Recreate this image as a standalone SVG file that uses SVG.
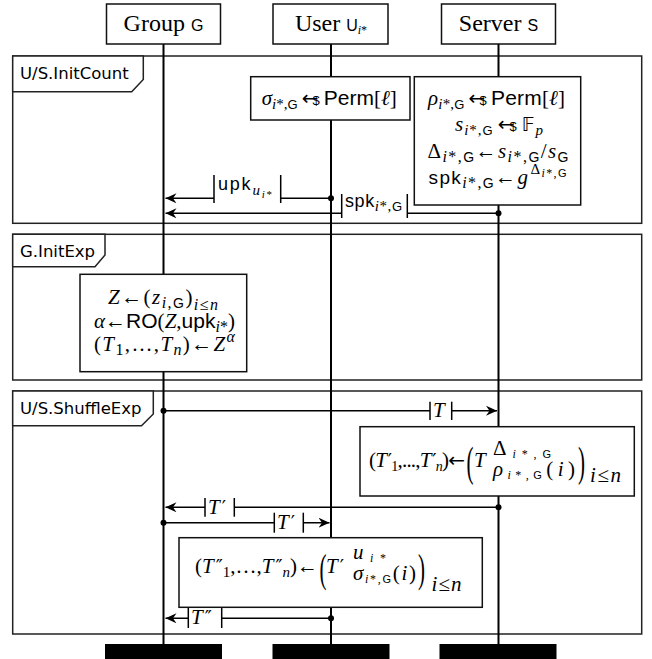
<svg xmlns="http://www.w3.org/2000/svg" width="652" height="659" viewBox="0 0 652 659">
<style>
.frame{fill:none;stroke:#222;stroke-width:1.5}
.tab{fill:#fff;stroke:#222;stroke-width:1.5}
.box{fill:#fff;stroke:#111;stroke-width:1.5}
.life{stroke:#000;stroke-width:2}
.msg{stroke:#000;stroke-width:1.5;fill:none}
.bar{stroke:#000;stroke-width:1.5}
.lblbg{fill:#fff}
.dot{fill:#000}
.end{fill:#000}
.hd{font-family:"Liberation Serif",serif;font-size:24px}
.lab{font-family:"DejaVu Sans",sans-serif;font-size:16.5px}
.t{font-family:"Liberation Serif",serif;font-size:21px}
.i{font-style:italic}
.sf{font-family:"Liberation Sans",sans-serif;font-style:normal}
.pr{font-family:"DejaVu Sans",sans-serif;font-style:normal;font-size:19px}
.ar{font-family:"DejaVu Sans",sans-serif;font-style:normal;font-size:20px}
.s{font-size:15px}
</style>
<defs>
<marker id="ah" markerWidth="14" markerHeight="12" refX="11" refY="5" orient="auto" markerUnits="userSpaceOnUse">
<path d="M0,0 L11,5 L0,10 L3.5,5 Z" fill="#000"/>
</marker>
</defs>

<g id="frames">
<rect class="frame" x="12.7" y="56" width="629" height="167.3"/>
<path class="tab" d="M12.7,56 H143.3 V79.5 L131.7,91.7 H12.7 Z"/>
<text class="lab" x="20" y="78.5">U/S.InitCount</text>
<rect class="frame" x="12.7" y="234.3" width="629" height="145.7"/>
<path class="tab" d="M12.7,234.3 H105 V255 L95,266.7 H12.7 Z"/>
<text class="lab" x="20" y="257">G.InitExp</text>
<rect class="frame" x="12.7" y="391" width="629" height="243"/>
<path class="tab" d="M12.7,391 H153.3 V414 L141.5,425.7 H12.7 Z"/>
<text class="lab" x="20" y="414">U/S.ShuffleExp</text>
</g>

<g id="lifelines">
<line class="life" x1="163.5" y1="44" x2="163.5" y2="645"/>
<line class="life" x1="331" y1="44" x2="331" y2="645"/>
<line class="life" x1="498.5" y1="44" x2="498.5" y2="645"/>
</g>

<g id="group-G">
<rect class="box" x="106.5" y="4" width="114" height="40"/>
<text class="hd" x="163.5" y="31" text-anchor="middle">Group <tspan class="sf" font-size="16">G</tspan></text>
<rect class="end" x="105" y="644" width="117" height="15"/>
</g>
<g id="user-U">
<rect class="box" x="273" y="4" width="115" height="40"/>
<text class="hd" x="331" y="31" text-anchor="middle">User <tspan class="sf" font-size="16">U</tspan><tspan class="i" font-size="12" dy="3">i</tspan><tspan font-size="12">*</tspan></text>
<rect class="end" x="272.5" y="644" width="117" height="15"/>
</g>
<g id="server-S">
<rect class="box" x="441.5" y="4" width="114" height="40"/>
<text class="hd" x="498.5" y="31" text-anchor="middle">Server <tspan class="sf" font-size="16">S</tspan></text>
<rect class="end" x="439.5" y="644" width="117" height="15"/>
</g>

<g id="user-initcount">
<rect class="box" x="250.7" y="76.7" width="159.3" height="43.3"/>
<text class="t" x="261.7" y="105" textLength="135"><tspan class="i">σ</tspan><tspan dy="4" class="s"><tspan class="i">i</tspan>*,<tspan class="sf" font-size="13">G</tspan></tspan><tspan dy="-4" dx="4" class="ar">←</tspan><tspan dx="-6" font-size="13" class="sf">$</tspan><tspan dx="4" class="sf">Perm</tspan>[<tspan class="i">ℓ</tspan>]</text>
</g>

<g id="server-initcount">
<rect class="box" x="414.3" y="76.7" width="166.4" height="128.3"/>
<text class="t" x="428" y="105" textLength="137"><tspan class="i">ρ</tspan><tspan dy="4" class="s"><tspan class="i">i</tspan>*,<tspan class="sf" font-size="13">G</tspan></tspan><tspan dy="-4" dx="4" class="ar">←</tspan><tspan dx="-6" font-size="13" class="sf">$</tspan><tspan dx="4" class="sf">Perm</tspan>[<tspan class="i">ℓ</tspan>]</text>
<text class="t" x="455" y="131" textLength="88"><tspan class="i">s</tspan><tspan dy="4" class="s"><tspan class="i">i</tspan>*,<tspan class="sf" font-size="13">G</tspan></tspan><tspan dy="-4" dx="4" class="ar">←</tspan><tspan dx="-6" font-size="13" class="sf">$</tspan><tspan dx="4" font-family="DejaVu Sans" font-size="19">𝔽</tspan><tspan class="i s" dy="4">p</tspan></text>
<text class="t" x="427.5" y="158" textLength="141"><tspan>Δ</tspan><tspan dy="4" font-size="16"><tspan class="i">i</tspan>*,<tspan class="sf" font-size="14">G</tspan></tspan><tspan dy="-4">←</tspan><tspan class="i">s</tspan><tspan dy="4" font-size="16"><tspan class="i">i</tspan>*,<tspan class="sf" font-size="14">G</tspan></tspan><tspan dy="-4">/</tspan><tspan class="i">s</tspan><tspan class="sf" font-size="14" dy="4">G</tspan></text>
<text class="t" x="428.5" y="184" textLength="138"><tspan class="sf" font-size="19">spk</tspan><tspan dy="4" font-size="16"><tspan class="i">i</tspan>*,<tspan class="sf" font-size="14">G</tspan></tspan><tspan dy="-4">←</tspan><tspan class="i">g</tspan><tspan dx="1" dy="-10" font-size="15">Δ</tspan><tspan dy="3" font-size="12"><tspan class="i">i</tspan>*,<tspan class="sf" font-size="11">G</tspan></tspan></text>
</g>

<g id="group-initexp">
<rect class="box" x="80" y="274.3" width="166.7" height="97.4"/>
<text class="t" x="108" y="304" textLength="110"><tspan class="i">Z</tspan>←(<tspan class="i">z</tspan><tspan dy="4" font-size="16"><tspan class="i">i</tspan>,<tspan class="sf" font-size="14">G</tspan></tspan><tspan dy="-4">)</tspan><tspan dy="6" font-size="16"><tspan class="i">i</tspan>≤<tspan class="i">n</tspan></tspan></text>
<text class="t" x="94" y="328" textLength="141"><tspan class="i">α</tspan>←<tspan class="sf">RO</tspan>(<tspan class="i">Z</tspan>,<tspan class="sf">upk</tspan><tspan dy="4" font-size="16"><tspan class="i">i</tspan>*</tspan><tspan dy="-4">)</tspan></text>
<text class="t" x="94" y="351" textLength="141">(<tspan class="i">T</tspan><tspan dy="4" font-size="16">1</tspan><tspan dy="-4">,…,</tspan><tspan class="i">T</tspan><tspan class="i" dy="4" font-size="16">n</tspan><tspan dy="-4">)←</tspan><tspan class="i">Z</tspan><tspan class="i" dy="-9" font-size="16">α</tspan></text>
</g>

<g id="server-shuffle">
<rect class="box" x="360" y="426.7" width="274.3" height="69.3"/>
<text class="t" x="369" y="467" font-size="19" textLength="96">(<tspan class="i">T</tspan><tspan class="pr" font-size="17" dx="1.5">′</tspan><tspan dy="4" font-size="14">1</tspan><tspan dy="-4">,...,</tspan><tspan class="i">T</tspan><tspan class="pr" font-size="17" dx="1.5">′</tspan><tspan class="i" dy="4" font-size="14">n</tspan><tspan dy="-4">)</tspan><tspan class="ar" font-size="18">←</tspan></text>
<text class="t" font-size="26" transform="translate(466.5,476) scale(1,2)">(</text>
<text class="t i" x="474" y="467" font-size="22">T</text>
<text class="t" x="493" y="455" font-size="16" textLength="58">Δ<tspan dy="3" font-size="12"><tspan class="i">i</tspan>*,<tspan class="sf" font-size="11">G</tspan></tspan></text>
<text class="t" x="493" y="476" font-size="16" textLength="82"><tspan class="i">ρ</tspan><tspan dy="3" font-size="12"><tspan class="i">i</tspan>*,<tspan class="sf" font-size="11">G</tspan></tspan><tspan dy="-3">(</tspan><tspan class="i">i</tspan>)</text>
<text class="t" font-size="26" transform="translate(578,476) scale(1,2)">)</text>
<text class="t" x="590" y="482" font-size="16" textLength="31"><tspan class="i">i</tspan>≤<tspan class="i">n</tspan></text>
</g>

<g id="user-shuffle">
<rect class="box" x="179" y="537.7" width="303.3" height="69.6"/>
<text class="t" x="195" y="573" textLength="123">(<tspan class="i">T</tspan><tspan class="pr" dx="2">″</tspan><tspan dy="4" font-size="15">1</tspan><tspan dy="-4">,…,</tspan><tspan class="i">T</tspan><tspan class="pr" dx="2">″</tspan><tspan class="i" dy="4" font-size="15">n</tspan><tspan dy="-4">)←</tspan></text>
<text class="t" font-size="26" transform="translate(319.5,582) scale(1,1.9)">(</text>
<text class="t" x="326" y="573" font-size="22"><tspan class="i">T</tspan><tspan class="pr" dx="2">′</tspan></text>
<text class="t" x="353" y="559" font-size="16" textLength="33"><tspan class="i">u</tspan><tspan dy="3" font-size="12"><tspan class="i">i</tspan>*</tspan></text>
<text class="t" x="353" y="580" font-size="16" textLength="63"><tspan class="i">σ</tspan><tspan dy="3" font-size="12"><tspan class="i">i</tspan>*,<tspan class="sf" font-size="11">G</tspan></tspan><tspan dy="-3">(</tspan><tspan class="i">i</tspan>)</text>
<text class="t" font-size="26" transform="translate(418,582) scale(1,1.9)">)</text>
<text class="t" x="431.5" y="591" font-size="16" textLength="30"><tspan class="i">i</tspan>≤<tspan class="i">n</tspan></text>
</g>

<g id="connectors">
<line class="msg" x1="331" y1="198.3" x2="165.5" y2="198.3" marker-end="url(#ah)"/>
<circle class="dot" cx="331" cy="198.3" r="3"/>
<rect class="lblbg" x="214" y="176" width="66.7" height="26"/>
<line class="bar" x1="214" y1="175" x2="214" y2="203"/>
<line class="bar" x1="280.7" y1="175" x2="280.7" y2="203"/>
<text class="t" x="218" y="190" textLength="54"><tspan class="sf" font-size="18">upk</tspan><tspan class="i" font-size="15" dy="5">u</tspan><tspan font-size="11" dy="3"><tspan class="i">i</tspan>*</tspan></text>

<line class="msg" x1="498.5" y1="213.3" x2="165.5" y2="213.3" marker-end="url(#ah)"/>
<circle class="dot" cx="498.5" cy="213.3" r="3"/>
<rect class="lblbg" x="341.7" y="195" width="65.6" height="22"/>
<line class="bar" x1="341.7" y1="194" x2="341.7" y2="218"/>
<line class="bar" x1="407.3" y1="194" x2="407.3" y2="218"/>
<text class="t" x="345" y="206.5" textLength="57"><tspan class="sf" font-size="18">spk</tspan><tspan dy="4" font-size="15"><tspan class="i">i</tspan>*,<tspan class="sf" font-size="13">G</tspan></tspan></text>

<line class="msg" x1="163.5" y1="410.7" x2="497" y2="410.7" marker-end="url(#ah)"/>
<circle class="dot" cx="163.5" cy="410.7" r="3"/>
<rect class="lblbg" x="430" y="402" width="21.7" height="17.5"/>
<line class="bar" x1="430" y1="401.7" x2="430" y2="420"/>
<line class="bar" x1="451.7" y1="401.7" x2="451.7" y2="420"/>
<text class="t i" x="433" y="416.5">T</text>

<line class="msg" x1="498.5" y1="507.3" x2="165.5" y2="507.3" marker-end="url(#ah)"/>
<circle class="dot" cx="498.5" cy="507.3" r="3"/>
<rect class="lblbg" x="205" y="498.5" width="29.3" height="17.5"/>
<line class="bar" x1="205" y1="498" x2="205" y2="516.7"/>
<line class="bar" x1="234.3" y1="498" x2="234.3" y2="516.7"/>
<text class="t" x="208" y="513.5"><tspan class="i">T</tspan><tspan class="pr" dx="2">′</tspan></text>

<line class="msg" x1="163.5" y1="522.7" x2="329.5" y2="522.7" marker-end="url(#ah)"/>
<circle class="dot" cx="163.5" cy="522.7" r="3"/>
<rect class="lblbg" x="274.3" y="513" width="29" height="19"/>
<line class="bar" x1="274.3" y1="512.7" x2="274.3" y2="532.7"/>
<line class="bar" x1="303.3" y1="512.7" x2="303.3" y2="532.7"/>
<text class="t" x="277" y="528.5"><tspan class="i">T</tspan><tspan class="pr" dx="2">′</tspan></text>

<line class="msg" x1="331" y1="618.3" x2="165.5" y2="618.3" marker-end="url(#ah)"/>
<circle class="dot" cx="331" cy="618.3" r="3"/>
<rect class="lblbg" x="188.3" y="608.5" width="33.4" height="19"/>
<line class="bar" x1="188.3" y1="608" x2="188.3" y2="628"/>
<line class="bar" x1="221.7" y1="608" x2="221.7" y2="628"/>
<text class="t" x="191" y="623.5"><tspan class="i">T</tspan><tspan class="pr" dx="2">″</tspan></text>
</g>
</svg>
